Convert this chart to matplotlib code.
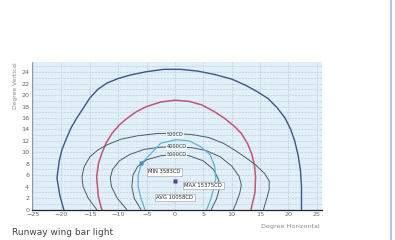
import matplotlib
matplotlib.use("Agg")
import matplotlib.pyplot as plt
from matplotlib.lines import Line2D

# isocandela curves (degrees horizontal, degrees vertical)
navy_x = [-19.6, -20.3, -20.8, -20.4, -19.9, -19.1, -18.3, -17.3, -16.3, -15.0, -13.6, -12.0,
          -10.0, -7.9, -5.0, -2.0, 1.0, 4.0, 7.0, 10.0, 12.5, 14.5, 16.4, 18.0, 19.4, 20.4,
          21.1, 21.7, 22.1, 22.3, 22.3]
navy_y = [0.0, 2.5, 5.5, 8.5, 10.5, 12.5, 14.3, 16.0, 17.5, 19.5, 21.0, 22.1,
          22.9, 23.5, 24.1, 24.5, 24.5, 24.2, 23.6, 22.8, 21.7, 20.6, 19.4, 17.8, 16.0, 14.0,
          12.0, 9.5, 7.0, 4.0, 0.0]

red_x = [-12.9, -13.5, -13.8, -13.5, -12.9, -12.1, -11.1, -9.8, -8.5, -6.8, -5.0, -2.5, 0.0,
         2.5, 4.7, 6.8, 8.8, 10.4, 11.7, 12.8, 13.5, 14.0, 14.2, 14.1, 13.4]
red_y = [0.0, 2.2, 5.7, 8.0, 9.8, 11.7, 13.3, 14.8, 15.9, 17.1, 18.0, 18.8, 19.1,
         18.9, 18.3, 17.2, 15.9, 14.6, 13.3, 11.5, 9.8, 7.8, 5.7, 3.0, 0.0]

outer_x = [-13.8, -15.3, -16.2, -16.4, -16.0, -15.0, -13.6, -12.0, -9.5, -6.5, -3.0, 0.0,
           3.0, 5.9, 8.5, 10.5, 12.3, 14.2, 15.8, 16.6, 16.6, 16.2, 15.6]
outer_y = [0.0, 2.0, 4.0, 5.7, 7.5, 9.2, 10.4, 11.3, 12.3, 12.9, 13.3, 13.3,
           13.1, 12.6, 11.6, 10.4, 9.2, 7.8, 6.3, 5.0, 3.5, 2.0, 0.0]

middle_x = [-8.5, -10.2, -11.2, -11.4, -11.0, -9.8, -8.0, -5.5, -2.5, 0.0, 3.0, 5.5, 8.0,
            10.0, 11.3, 11.7, 11.4, 10.8, 10.3]
middle_y = [0.0, 2.0, 4.0, 5.5, 7.0, 8.5, 9.6, 10.5, 10.9, 11.0, 10.8, 10.3, 9.2,
            7.6, 5.8, 4.3, 2.8, 1.2, 0.0]

inner_x = [-6.0, -7.2, -7.6, -7.4, -6.6, -5.0, -2.5, 0.0, 2.5, 5.0, 6.8, 7.7, 7.8, 7.3, 6.4]
inner_y = [0.0, 2.0, 4.0, 6.0, 7.5, 8.7, 9.4, 9.6, 9.4, 8.5, 7.0, 5.2, 3.5, 1.8, 0.0]

cyan_x = [-5.3, -6.0, -6.5, -6.5, -5.9, -4.4, -2.5, 0.2, 2.5, 4.5, 6.2, 7.0, 7.2, 6.8, 6.2, 5.6]
cyan_y = [0.0, 2.0, 4.0, 6.0, 8.1, 9.6, 11.6, 12.2, 12.0, 11.0, 9.6, 7.5, 5.5, 3.5, 1.5, 0.0]

level_labels = ["500CD", "4000CD", "5000CD"]
level_pos = [(0.0, 13.1), (0.3, 11.0), (0.3, 9.6)]

min_pt = (-5.9, 8.1)
max_pt = (0.0, 4.9)
min_label = "MIN 3583CD"
max_label = "MAX 15375CD"
avg_label = "AVG 10058CD"

x_ticks = list(range(-25, 26, 5))
y_ticks = list(range(0, 25, 2))

fig = plt.figure(figsize=(3.95, 2.4), dpi=100)
ax = fig.add_axes([0.081, 0.127, 0.734, 0.615])
ax.set_facecolor("#e1eff9")

ax.set_xlim(-25.2, 25.9)
ax.set_ylim(0, 25.8)

# dashed grid: every 5 degrees across, every degree up
for gx in x_ticks:
    ax.axvline(gx, color="#bccad8", lw=0.5, ls=(0, (3, 1.5)), zorder=0)
for gy in range(1, 26):
    ax.axhline(gy, color="#c2cfdc", lw=0.5, ls=(0, (3, 1.5)), zorder=0)

ax.plot(navy_x, navy_y, color="#3b5687", lw=1.0)
ax.plot(red_x, red_y, color="#c15670", lw=1.1)
for cx, cy in [(outer_x, outer_y), (middle_x, middle_y), (inner_x, inner_y)]:
    ax.plot(cx, cy, color="#4d5b68", lw=0.7)
ax.plot(cyan_x, cyan_y, color="#5ab6d8", lw=0.9)

for txt, (lx, ly) in zip(level_labels, level_pos):
    ax.text(lx, ly, txt, fontsize=3.6, color="#333", ha="center", va="center",
            bbox=dict(boxstyle="square,pad=0.1", fc="#f2f8fc", ec="none", alpha=0.85))

ax.plot(*min_pt, marker="s", ms=2.5, color="#3f8cc6", mec="none")
ax.plot(*max_pt, marker="s", ms=2.5, color="#5b3d8c", mec="none")

box = dict(boxstyle="square,pad=0.25", fc="white", ec="#999", lw=0.4)
ax.text(-1.9, 6.6, min_label, fontsize=3.8, color="#222", ha="center", va="center", bbox=box)
ax.text(5.0, 4.2, max_label, fontsize=3.8, color="#222", ha="center", va="center", bbox=box)
ax.text(0.0, 2.1, avg_label, fontsize=3.8, color="#222", ha="center", va="center", bbox=box)

ax.set_xticks(x_ticks)
ax.set_yticks(y_ticks)
ax.tick_params(length=0, labelsize=4.6, labelcolor="#666", pad=2)
for s in ["top", "right"]:
    ax.spines[s].set_visible(False)
ax.spines["left"].set_color("#888")
ax.spines["left"].set_linewidth(0.6)
ax.spines["bottom"].set_color("#222")
ax.spines["bottom"].set_linewidth(0.9)

fig.text(0.038, 0.742, "Degree Vertical", rotation=90, fontsize=4.3, color="#8a8a8a",
         ha="center", va="top")
fig.text(0.81, 0.055, "Degree Horizontal", fontsize=4.6, color="#8a8a8a", ha="right", va="center")
fig.text(0.03, 0.033, "Runway wing bar light", fontsize=6.5, color="#444", ha="left", va="center")

fig.add_artist(Line2D([0.99, 0.99], [0, 1], transform=fig.transFigure, color="#a9b9e3", lw=1.2))

fig.savefig("out.png", dpi=100)
